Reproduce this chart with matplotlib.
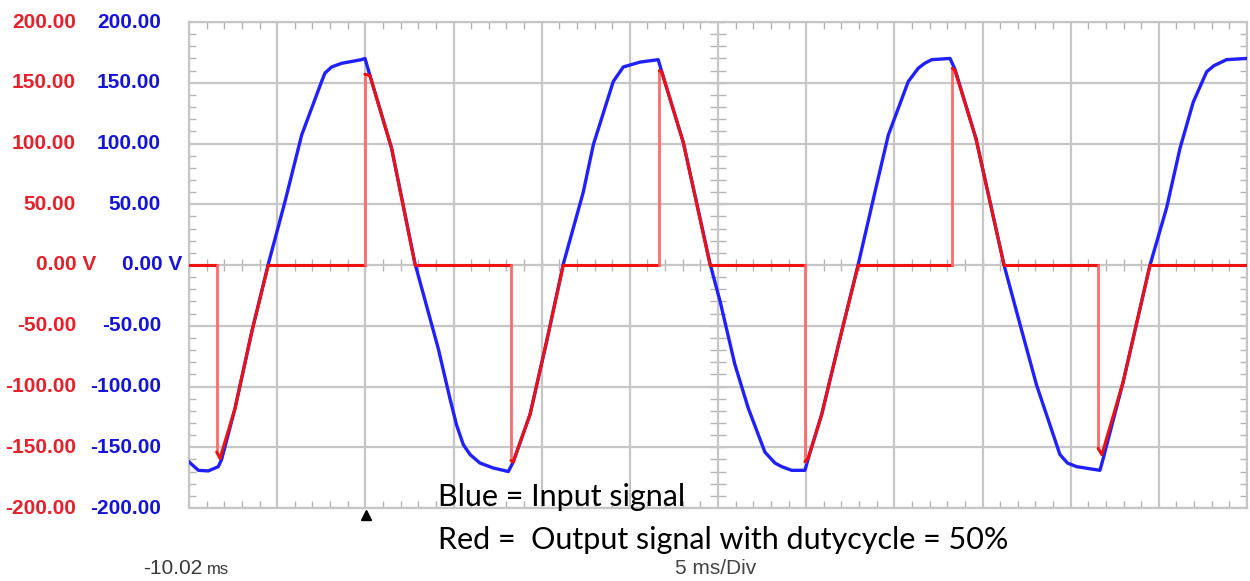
import matplotlib
matplotlib.use("Agg")
import matplotlib.pyplot as plt
import matplotlib.transforms as mtrans
import numpy as np

# ---------------- data (time in ms, voltage in V) ----------------
blue_t = [-10.02, -9.49, -8.93, -8.36, -8.17, -7.41, -6.46, -5.52, -4.58, -3.63,
          -2.50, -2.31, -1.93, -1.37, -0.80, -0.24, -0.04, 0.24, 1.47, 2.80,
          4.12, 4.78, 5.16, 5.54, 5.92, 6.48, 7.22, 8.09, 8.37, 9.32,
          10.26, 11.21, 12.34, 12.91, 14.04, 14.61, 15.56, 16.59, 16.79, 18.01,
          19.53, 20.10, 20.94, 21.70, 22.64, 23.21, 23.60, 24.16, 24.91, 25.10,
          25.86, 26.99, 27.94, 28.88, 29.64, 30.77, 31.34, 31.70, 32.10, 33.14,
          33.42, 34.61, 36.20, 37.11, 38.05, 39.37, 39.80, 40.32, 41.64, 41.83,
          42.96, 44.48, 45.42, 46.18, 46.93, 47.69, 48.10, 48.82, 49.96]
blue_v = [-162, -169, -169.5, -166, -160, -118, -55, 1, 52, 107,
          151, 158, 163, 166, 167.5, 169, 170, 156, 96, 1,
          -69, -110, -132, -148, -156, -163, -167, -170, -162, -123,
          -63, 1, 60, 99, 151, 163, 167, 169, 159, 101,
          1, -30, -82, -118, -154, -163, -166, -169, -169, -159,
          -123, -55, 1, 60, 107, 151, 162, 166, 169, 170,
          161, 104, 0, -49, -99, -156, -163, -166, -169, -159,
          -96, 0, 47, 96, 134, 159, 164, 169, 170]

red_t = [-10.02, -8.45, -8.45, -8.26, -7.41, -6.46, -5.52,
         -0.04, -0.04, 0.24, 1.47, 2.80,
         8.24, 8.24, 8.37, 9.32, 10.26, 11.21,
         16.65, 16.65, 16.79, 18.01, 19.53,
         24.91, 24.91, 25.10, 25.86, 26.99, 27.94,
         33.27, 33.27, 33.42, 34.61, 36.20,
         41.54, 41.54, 41.75, 42.96, 44.48, 49.98]
red_v = [0, 0, -154, -159, -118, -55, 0,
         0, 157, 156, 96, 0,
         0, -161, -162, -123, -63, 0,
         0, 160, 159, 101, 0,
         0, -162, -159, -123, -55, 0,
         0, 162, 160, 104, 0,
         0, -151, -156, -96, 0, 0]

y_ticks = [200, 150, 100, 50, 0, -50, -100, -150, -200]
y_labels = ["200.00", "150.00", "100.00", "50.00", "0.00 V",
            "-50.00", "-100.00", "-150.00", "-200.00"]
t_start = -10.02
ms_per_div = 5
n_div_x = 12
volt_per_div = 50

# ---------------- figure ----------------
W, H = 1250, 581
fig = plt.figure(figsize=(W / 100, H / 100), dpi=100)
ax = fig.add_axes([189 / W, 1 - 508 / H, (1247 - 189) / W, (508 - 22) / H])

t_end = t_start + n_div_x * ms_per_div
ax.set_xlim(t_start, t_end)
ax.set_ylim(-200, 200)

grid_c = "#c6c6c6"
tick_c = "#b4b4b4"
x_major = [t_start + k * ms_per_div for k in range(n_div_x + 1)]
x_minor = [t_start + k * ms_per_div / 5 for k in range(n_div_x * 5 + 1)]
y_major = list(range(-200, 201, volt_per_div))
y_minor = list(range(-200, 201, volt_per_div // 5))
ax.set_xticks(x_major)
ax.set_xticks(x_minor, minor=True)
ax.set_yticks(y_major)
ax.set_yticks(y_minor, minor=True)
ax.grid(True, which="major", color=grid_c, lw=1.6)
ax.tick_params(which="both", labelleft=False, labelbottom=False,
               direction="in", top=True, right=True, color=tick_c)
ax.tick_params(which="major", length=0)
ax.tick_params(which="minor", length=5, width=1)
for s in ax.spines.values():
    s.set_color(grid_c)
    s.set_linewidth(1.6)

# centre-line ticks
t_mid = t_start + n_div_x / 2 * ms_per_div
ax.plot(x_minor, [0] * len(x_minor), ls="none", marker="|", ms=9, mew=1,
        color=tick_c, zorder=1.5)
ax.plot([t_mid] * len(y_minor), y_minor, ls="none", marker="_", ms=11, mew=1,
        color=tick_c, zorder=1.5)

# traces
ax.plot(blue_t, blue_v, color="#1f1fff", lw=2.4, zorder=3,
        solid_joinstyle="round")
rt = np.array(red_t)
rv = np.array(red_v)
for i in range(len(rt) - 1):
    vertical = rt[i] == rt[i + 1]
    ax.plot(rt[i:i + 2], rv[i:i + 2],
            color="#ff6a6a" if vertical else "#f01010",
            lw=2.0 if vertical else 2.2, zorder=4, solid_capstyle="round")

# trigger marker
ax.plot([0], [-200], marker="^", color="black", ms=6.5, clip_on=False,
        transform=mtrans.offset_copy(ax.transData, fig=fig, x=0, y=-5,
                                     units="points"),
        zorder=5)

# y labels
tr = mtrans.blended_transform_factory(fig.transFigure, ax.transData)
lab_font = dict(family="Liberation Sans", weight="bold", fontsize=15)
for v, lab in zip(y_ticks, y_labels):
    if v == 0:
        fig.text(36 / W, 0, lab, transform=tr, ha="left", va="center",
                 color="#e8202a", **lab_font)
        fig.text(122 / W, 0, lab, transform=tr, ha="left", va="center",
                 color="#1414d8", **lab_font)
    else:
        fig.text(76 / W, v, lab, transform=tr, ha="right", va="center",
                 color="#e8202a", **lab_font)
        fig.text(161 / W, v, lab, transform=tr, ha="right", va="center",
                 color="#1414d8", **lab_font)

# bottom texts
fig.text(143 / W, 1 - 568 / H, "-10.02", ha="left", va="center",
         family="Liberation Sans", fontsize=15, color="#383838")
fig.text(207 / W, 1 - 569 / H, "ms", ha="left", va="center",
         family="Liberation Sans", fontsize=12, color="#383838")
fig.text(675 / W, 1 - 568 / H, "5 ms/Div", ha="left", va="center",
         family="Liberation Sans", fontsize=15, color="#444444")

fig.text(438 / W, 1 - 497 / H, "Blue = Input signal", ha="left", va="center",
         family="Lato", fontsize=22, color="black")
fig.text(438 / W, 1 - 540 / H, "Red =  Output signal with dutycycle = 50%",
         ha="left", va="center", family="Lato", fontsize=22, color="black")

fig.savefig("out.png", dpi=100)
